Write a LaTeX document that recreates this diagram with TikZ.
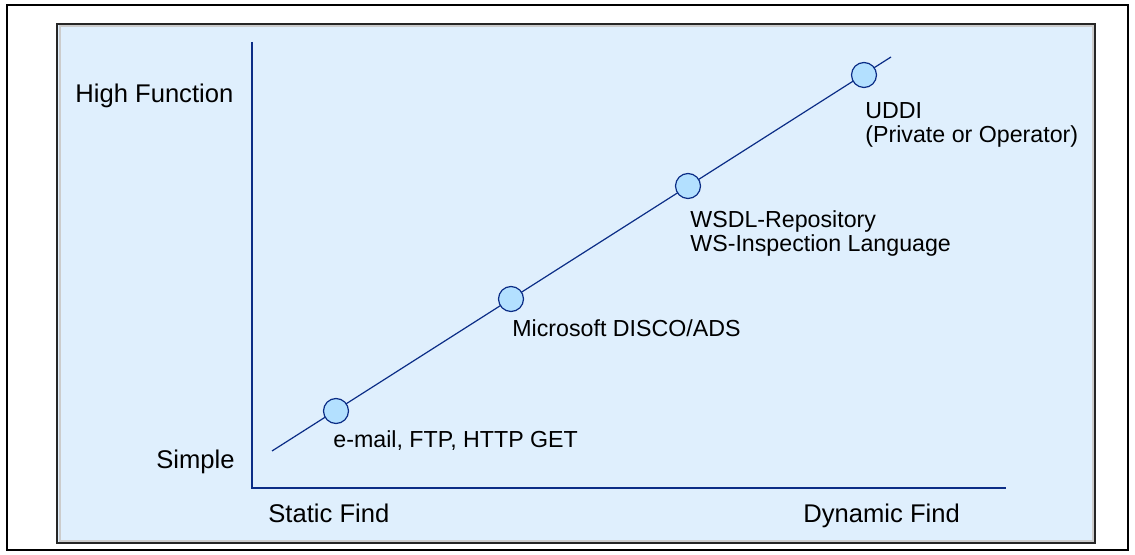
\documentclass[tikz,border=0pt]{standalone}
\usepackage{fontspec}
\setmainfont{Liberation Sans}
\usetikzlibrary{positioning}
\usepackage{xcolor}

\definecolor{panelfill}{HTML}{DFEFFD}
\definecolor{axisblue}{HTML}{0B2D86}
\definecolor{pointfill}{HTML}{B3E0FF}

\tikzset{
    findpoint/.style={circle, draw=axisblue, fill=pointfill, line width=0.6pt,
        minimum size=12.5pt, inner sep=0pt},
    findlabel/.style={inner sep=0pt, align=left, anchor=base west,
        font=\fontsize{11.6}{12}\selectfont},
    axislabel/.style={inner sep=0pt, anchor=base west,
        font=\fontsize{12.8}{14}\selectfont}
}

\begin{document}
\begin{tikzpicture}[x=0.5pt, y=-0.5pt]
    \useasboundingbox (0,0) rectangle (1135,555);

    % Frame and panel
    \draw[black, line width=0.6pt] (7,5) rectangle (1128,550);
    \fill[panelfill] (57,24) rectangle (1095,543);
    \draw[black!20, line width=1pt] (59.5,26.5) rectangle (1092.5,540.5);
    \draw[black!85, line width=0.8pt] (57,24) rectangle (1095,543);

    % Axes
    \coordinate (ytop) at (252,42);
    \coordinate (origin) at (252,488);
    \coordinate (xend) at (1006,488);
    \draw[axisblue, line width=1.1pt] (ytop) -- (origin) -- (xend);

    % Axis labels
    \node[axislabel] (high) at (75,103) {High Function};
    \node[axislabel] (simple) at (156,468) {Simple};
    \node[axislabel] (static) at (268,523) {Static Find};
    \node[axislabel] (dynamic) at (803,523) {Dynamic Find};

    % Trend line
    \coordinate (lstart) at (272,451);
    \coordinate (lend) at (891,57);
    \draw[axisblue, line width=0.6pt] (lstart) -- (lend);

    % Find mechanisms
    \node[findpoint] (mail) at (336,411) {};
    \node[findpoint] (disco) at (511,299) {};
    \node[findpoint] (wsdl) at (688,186) {};
    \node[findpoint] (uddi) at (864,75) {};

    % (base of a two-line label is its last line)
    \node[findlabel] (mailtxt) at (333,448) {e-mail, FTP, HTTP GET};
    \node[findlabel] (discotxt) at (512,337) {Microsoft DISCO/ADS};
    \node[findlabel] (wsdltxt) at (690,252) {WSDL-Repository\\WS-Inspection Language};
    \node[findlabel] (udditxt) at (865,143) {UDDI\\(Private or Operator)};
\end{tikzpicture}
\end{document}
